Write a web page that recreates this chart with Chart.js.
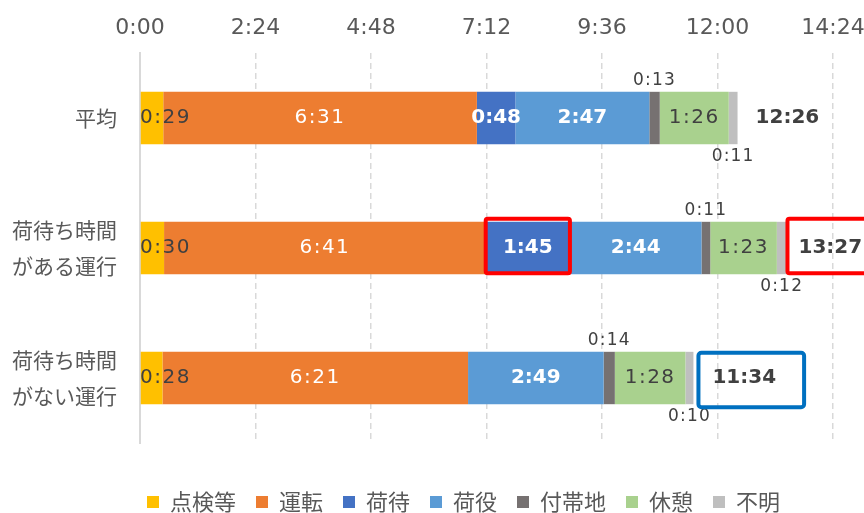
<!DOCTYPE html>
<html lang="ja">
<head>
<meta charset="utf-8">
<script src="https://cdn.jsdelivr.net/npm/chart.js@4.4.1/dist/chart.umd.min.js"></script>
<style>
  body { margin: 0; background: #fff; }
  canvas { display: block; }
</style>
</head>
<body>
<canvas id="unkouChart" width="864" height="513"></canvas>
<script>
// 区分
const categories = ['平均', ['荷待ち時間', 'がある運行'], ['荷待ち時間', 'がない運行']];
const seriesNames = ['点検等', '運転', '荷待', '荷役', '付帯地', '休憩', '不明'];

// 各作業の時間（分）
const inspection = [29, 30, 28];
const driving    = [391, 401, 381];
const waiting    = [48, 105, 0];
const handling   = [167, 164, 169];
const incidental = [13, 11, 14];
const rest       = [86, 83, 88];
const unknown    = [11, 12, 10];

// 合計ラベル
const totalLabels = ['12:26', '13:27', '11:34'];

// 軸：0:00〜14:24、2:24刻み（分）
const axisMax = 864;
const axisStep = 144;

const colors = ['#ffc000', '#ed7d31', '#4472c4', '#5b9bd5', '#767171', '#a9d18e', '#bfbfbf'];
const series = [inspection, driving, waiting, handling, incidental, rest, unknown];

// ラベルの書式: place = center / above / below
const labelStyle = [
  { place: 'center', color: '#404040', bold: false },
  { place: 'center', color: '#ffffff', bold: false },
  { place: 'center', color: '#ffffff', bold: true },
  { place: 'center', color: '#ffffff', bold: true },
  { place: 'above',  color: '#404040', bold: false },
  { place: 'center', color: '#404040', bold: false },
  { place: 'below',  color: '#404040', bold: false },
];
// 合計ラベルと棒の間隔
const totalGap = [18, 12, 19];

function hmm(min) {
  const h = Math.floor(min / 60);
  const m = Math.round(min % 60);
  return h + ':' + String(m).padStart(2, '0');
}

// 凡例を少し右下へずらす
const legendShift = {
  id: 'legendShift',
  afterLayout(chart) {
    const lg = chart.legend;
    lg.top += 28; lg.bottom += 28;
    lg.left += 47; lg.right += 47;
  }
};

// 棒の中・上下にラベルを描く
const barLabels = {
  id: 'barLabels',
  afterDatasetsDraw(chart) {
    const ctx = chart.ctx;
    const area = chart.chartArea;
    ctx.save();
    ctx.textBaseline = 'middle';
    ctx.textAlign = 'left';
    chart.data.datasets.forEach((ds, i) => {
      const meta = chart.getDatasetMeta(i);
      const st = labelStyle[i];
      meta.data.forEach((bar, j) => {
        const v = ds.data[j];
        if (!v) return;
        let cy = bar.y;
        let size = 20;
        if (st.place === 'above') { cy = bar.y - bar.height / 2 - 11; size = 17; }
        if (st.place === 'below') { cy = bar.y + bar.height / 2 + 12; size = 17; }
        if (st.bold) {
          ctx.letterSpacing = '0px';
          ctx.font = 'bold ' + size + 'px "DejaVu Sans"';
        } else {
          ctx.letterSpacing = (size > 18 ? 1.5 : 1.2) + 'px';
          ctx.font = size + 'px "DejaVu Sans"';
        }
        const txt = hmm(v);
        const w = ctx.measureText(txt).width;
        // はみ出すラベルはプロット領域の内側に寄せる
        const tx = Math.max(area.left, (bar.x + bar.base) / 2 - w / 2);
        ctx.fillStyle = st.color;
        ctx.fillText(txt, tx, cy);
      });
    });

    // 合計
    const last = chart.getDatasetMeta(chart.data.datasets.length - 1);
    ctx.letterSpacing = '0px';
    ctx.font = 'bold 20px "DejaVu Sans"';
    ctx.fillStyle = '#404040';
    const totalBoxes = [];
    last.data.forEach((bar, j) => {
      const tx = bar.x + totalGap[j];
      ctx.fillText(totalLabels[j], tx, bar.y);
      totalBoxes.push({ x: tx, w: ctx.measureText(totalLabels[j]).width, top: bar.y - bar.height / 2, h: bar.height });
    });

    // 強調枠
    ctx.lineWidth = 4;
    ctx.lineJoin = 'round';
    const waitBar = chart.getDatasetMeta(2).data[1];
    ctx.strokeStyle = '#ff0000';
    ctx.beginPath();
    ctx.roundRect(waitBar.base, waitBar.y - waitBar.height / 2 - 3, waitBar.x - waitBar.base, waitBar.height + 2, 2);
    ctx.stroke();

    const r = totalBoxes[1];
    ctx.beginPath();
    ctx.roundRect(r.x - 11, r.top - 3, r.w + 26, r.h + 2, 2);
    ctx.stroke();

    const b = totalBoxes[2];
    ctx.strokeStyle = '#0070c0';
    ctx.beginPath();
    ctx.roundRect(b.x - 14, b.top + 1, b.w + 42, b.h + 2, 3);
    ctx.stroke();
    ctx.restore();
  }
};

const datasets = seriesNames.map((name, i) => ({
  label: name,
  data: series[i],
  backgroundColor: colors[i],
  borderWidth: 0,
  categoryPercentage: 0.403,
  barPercentage: 1.0,
}));

new Chart(document.getElementById('unkouChart').getContext('2d'), {
  type: 'bar',
  data: { labels: categories, datasets: datasets },
  plugins: [barLabels, legendShift],
  options: {
    indexAxis: 'y',
    responsive: false,
    animation: false,
    layout: { padding: { left: 0, right: 31, top: 4, bottom: 18 } },
    scales: {
      x: {
        position: 'top',
        stacked: true,
        min: 0,
        max: axisMax,
        afterFit: (scale) => {
          scale.height = 49;
          scale.paddingLeft = 0;
          scale.paddingRight = 0;
        },
        ticks: {
          stepSize: axisStep,
          padding: 12,
          color: '#595959',
          font: { family: '"DejaVu Sans"', size: 22 },
          callback: (v) => hmm(v),
        },
        grid: {
          color: '#d9d9d9',
          lineWidth: 1.5,
          drawTicks: false,
        },
        border: { display: false, dash: [6, 4] },
      },
      y: {
        stacked: true,
        afterFit: (scale) => {
          scale.width = 140;
          scale.paddingTop = 0;
          scale.paddingBottom = 0;
        },
        ticks: {
          padding: 23,
          color: '#595959',
          font: { family: '"Noto Sans CJK JP"', size: 21, lineHeight: 1.76 },
        },
        grid: { display: false, drawTicks: false },
        border: { display: true, color: '#d9d9d9', width: 2 },
      },
    },
    plugins: {
      legend: {
        position: 'bottom',
        labels: {
          boxWidth: 12,
          boxHeight: 12,
          padding: 20,
          color: '#595959',
          font: { family: '"Noto Sans CJK JP"', size: 22 },
        },
      },
      tooltip: { enabled: false },
    },
  },
});
</script>
</body>
</html>
